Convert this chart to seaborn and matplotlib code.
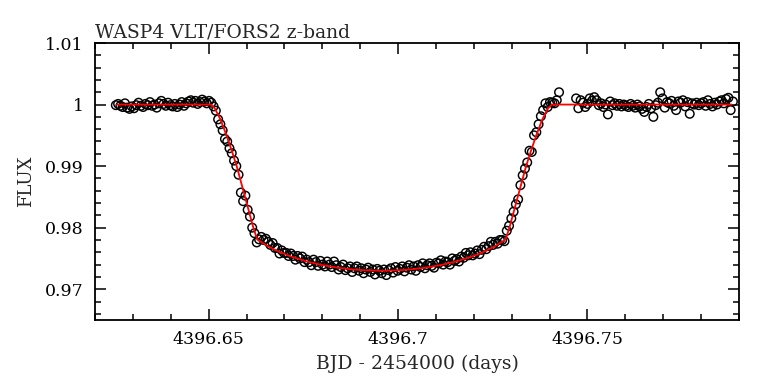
import numpy as np
import pandas as pd
import matplotlib
matplotlib.use("Agg")
import matplotlib.pyplot as plt
import seaborn as sns
from matplotlib.ticker import MultipleLocator

sns.set_style("ticks")
plt.rcParams['font.family'] = ['DejaVu Serif']

# BJD - 2454000, kept as offsets from 4396.6
T0 = 4396.6

# out of transit, before ingress
t_pre = [0.0255, 0.0261, 0.0267, 0.0273, 0.0279, 0.0285, 0.0291, 0.0297, 0.0303, 0.0309,
         0.0315, 0.0321, 0.0327, 0.0333, 0.0339, 0.0345, 0.0351, 0.0357, 0.0363, 0.0369,
         0.0375, 0.0381, 0.0387, 0.0393, 0.0399, 0.0405, 0.0411, 0.0417, 0.0423, 0.0429,
         0.0435, 0.0441, 0.0447, 0.0453, 0.0459, 0.0465, 0.0471, 0.0477, 0.0483, 0.0489,
         0.0495, 0.0501, 0.0507]
f_pre = [0.9999, 1.0001, 0.9998, 0.9996, 1.0002, 0.9995, 0.9993, 0.9997, 0.9994, 0.9999,
         1.0003, 0.9998, 0.9996, 1.0001, 0.9999, 1.0004, 0.9998, 1.0000, 0.9995, 1.0002,
         1.0006, 1.0001, 0.9998, 1.0003, 0.9999, 0.9997, 1.0001, 0.9996, 1.0000, 1.0004,
         0.9998, 1.0002, 1.0005, 1.0007, 1.0003, 1.0006, 1.0001, 1.0004, 1.0008, 1.0005,
         1.0002, 1.0006, 1.0003]

# ingress
t_ing = [0.0513, 0.0519, 0.0525, 0.0531, 0.0537, 0.0543, 0.0549, 0.0555, 0.0561, 0.0567,
         0.0573, 0.0579, 0.0585, 0.0591, 0.0597, 0.0603, 0.0609, 0.0615, 0.0621, 0.0627]
f_ing = [0.9997, 0.9990, 0.9976, 0.9968, 0.9958, 0.9944, 0.9940, 0.9929, 0.9921, 0.9909,
         0.9900, 0.9886, 0.9857, 0.9843, 0.9852, 0.9829, 0.9818, 0.9800, 0.9791, 0.9776]

# full transit
t_bot = [0.0633, 0.0639, 0.0645, 0.0651, 0.0657, 0.0663, 0.0669, 0.0675, 0.0681, 0.0687,
         0.0693, 0.0699, 0.0705, 0.0711, 0.0717, 0.0723, 0.0729, 0.0735, 0.0741, 0.0747,
         0.0753, 0.0759, 0.0765, 0.0771, 0.0777, 0.0783, 0.0789, 0.0795, 0.0801, 0.0807,
         0.0813, 0.0819, 0.0825, 0.0831, 0.0837, 0.0843, 0.0849, 0.0855, 0.0861, 0.0867,
         0.0873, 0.0879, 0.0885, 0.0891, 0.0897, 0.0903, 0.0909, 0.0915, 0.0921, 0.0927,
         0.0933, 0.0939, 0.0945, 0.0951, 0.0957, 0.0963, 0.0969, 0.0975, 0.0981, 0.0987,
         0.0993, 0.0999, 0.1005, 0.1011, 0.1017, 0.1023, 0.1029, 0.1035, 0.1041, 0.1047,
         0.1053, 0.1059, 0.1065, 0.1071, 0.1077, 0.1083, 0.1089, 0.1095, 0.1101, 0.1107,
         0.1113, 0.1119, 0.1125, 0.1131, 0.1137, 0.1143, 0.1149, 0.1155, 0.1161, 0.1167,
         0.1173, 0.1179, 0.1185, 0.1191, 0.1197, 0.1203, 0.1209, 0.1215, 0.1221, 0.1227,
         0.1233, 0.1239, 0.1245, 0.1251, 0.1257, 0.1263, 0.1269, 0.1275, 0.1281]
f_bot = [0.9781, 0.9785, 0.9780, 0.9782, 0.9777, 0.9772, 0.9775, 0.9767, 0.9767, 0.9758,
         0.9763, 0.9759, 0.9759, 0.9754, 0.9758, 0.9754, 0.9748, 0.9754, 0.9750, 0.9753,
         0.9744, 0.9748, 0.9744, 0.9739, 0.9748, 0.9744, 0.9738, 0.9746, 0.9740, 0.9737,
         0.9745, 0.9740, 0.9736, 0.9745, 0.9739, 0.9732, 0.9736, 0.9740, 0.9731, 0.9734,
         0.9737, 0.9728, 0.9734, 0.9737, 0.9730, 0.9734, 0.9726, 0.9732, 0.9735, 0.9728,
         0.9732, 0.9724, 0.9733, 0.9730, 0.9726, 0.9732, 0.9723, 0.9731, 0.9734, 0.9727,
         0.9736, 0.9730, 0.9733, 0.9737, 0.9729, 0.9735, 0.9739, 0.9732, 0.9737, 0.9730,
         0.9739, 0.9736, 0.9742, 0.9734, 0.9739, 0.9742, 0.9738, 0.9735, 0.9743, 0.9742,
         0.9747, 0.9740, 0.9745, 0.9744, 0.9740, 0.9750, 0.9746, 0.9749, 0.9745, 0.9753,
         0.9751, 0.9759, 0.9755, 0.9760, 0.9755, 0.9758, 0.9763, 0.9757, 0.9764, 0.9769,
         0.9765, 0.9770, 0.9777, 0.9772, 0.9777, 0.9774, 0.9780, 0.9780, 0.9778]

# egress
t_egr = [0.1287, 0.1293, 0.1299, 0.1305, 0.1311, 0.1317, 0.1323, 0.1329, 0.1335, 0.1341,
         0.1347, 0.1353, 0.1359, 0.1365, 0.1371, 0.1377, 0.1383, 0.1389, 0.1395, 0.1401]
f_egr = [0.9795, 0.9803, 0.9815, 0.9826, 0.9838, 0.9846, 0.9869, 0.9885, 0.9896, 0.9906,
         0.9925, 0.9923, 0.9950, 0.9955, 0.9968, 0.9981, 0.9991, 1.0002, 0.9996, 1.0004]

# out of transit, after egress (small gap near 4396.745)
t_post = [0.1407, 0.1413, 0.1419, 0.1425,
          0.1470, 0.1476, 0.1482, 0.1488, 0.1494, 0.1500, 0.1506, 0.1512, 0.1518, 0.1524,
          0.1530, 0.1536, 0.1542, 0.1548, 0.1554, 0.1560, 0.1566, 0.1572, 0.1578, 0.1584,
          0.1590, 0.1596, 0.1602, 0.1608, 0.1614, 0.1620, 0.1626, 0.1632, 0.1638, 0.1644,
          0.1650, 0.1656, 0.1662, 0.1668, 0.1674, 0.1680, 0.1686, 0.1692, 0.1698, 0.1704,
          0.1710, 0.1716, 0.1722, 0.1728, 0.1734, 0.1740, 0.1746, 0.1752, 0.1758, 0.1764,
          0.1770, 0.1776, 0.1782, 0.1788, 0.1794, 0.1800, 0.1806, 0.1812, 0.1818, 0.1824,
          0.1830, 0.1836, 0.1842, 0.1848, 0.1854, 0.1860, 0.1866, 0.1872, 0.1878, 0.1884]
f_post = [1.0003, 1.0002, 1.0007, 1.0020,
          1.0010, 0.9994, 1.0007, 1.0003, 0.9996, 1.0001, 1.0010, 1.0006, 1.0012, 1.0007,
          0.9999, 1.0002, 0.9996, 1.0000, 0.9984, 1.0005, 0.9999, 1.0002, 0.9998, 1.0001,
          0.9997, 1.0000, 0.9998, 0.9996, 1.0001, 0.9998, 0.9995, 1.0000, 0.9997, 0.9993,
          0.9988, 0.9996, 1.0001, 0.9994, 0.9980, 0.9999, 1.0003, 1.0020, 1.0010, 0.9995,
          1.0004, 1.0002, 1.0006, 0.9998, 0.9991, 1.0005, 1.0003, 1.0007, 0.9997, 1.0004,
          0.9985, 1.0002, 1.0000, 1.0003, 0.9999, 1.0002, 1.0004, 0.9998, 1.0007, 1.0001,
          0.9997, 1.0003, 1.0000, 1.0005, 1.0007, 1.0002, 1.0009, 1.0011, 0.9991, 1.0005]

# fitted transit model (red curve)
t_model = [0.0258, 0.0506, 0.0516, 0.0531, 0.0546, 0.0561, 0.0574, 0.0596, 0.0618, 0.0628,
           0.0656, 0.0686, 0.0716, 0.0756, 0.0796, 0.0836, 0.0876, 0.0916, 0.0956,
           0.0996, 0.1036, 0.1076, 0.1116, 0.1156, 0.1196, 0.1226, 0.1256, 0.1284,
           0.1294, 0.1316, 0.1338, 0.1351, 0.1366, 0.1381, 0.1396, 0.1406, 0.1880]
f_model = [1.0000, 1.0000, 0.9994, 0.9976, 0.9952, 0.9925, 0.9900, 0.9850, 0.9800, 0.97810,
           0.97699, 0.97607, 0.97534, 0.97456, 0.97397, 0.97354, 0.97323, 0.97306, 0.97300,
           0.97306, 0.97323, 0.97354, 0.97397, 0.97456, 0.97534, 0.97607, 0.97699, 0.97810,
           0.9800, 0.9850, 0.9900, 0.9925, 0.9952, 0.9976, 0.9994, 1.0000, 1.0000]

xticks = [4396.65, 4396.7, 4396.75]
xtick_labels = ['4396.65', '4396.7', '4396.75']
yticks = [0.97, 0.98, 0.99, 1.0, 1.01]
ytick_labels = ['0.97', '0.98', '0.99', '1', '1.01']

obs = pd.DataFrame({
    'bjd': T0 + np.array(t_pre + t_ing + t_bot + t_egr + t_post),
    'flux': f_pre + f_ing + f_bot + f_egr + f_post,
})
model = pd.DataFrame({'bjd': T0 + np.array(t_model), 'flux': f_model})

fig = plt.figure(figsize=(7.57, 3.86), dpi=100)
ax = fig.add_axes([0.1255, 0.171, 0.8507, 0.7176])

sns.scatterplot(data=obs, x='bjd', y='flux', ax=ax, marker='o', s=38,
                facecolor='none', edgecolor='black', linewidth=1.05, zorder=2)
sns.lineplot(data=model, x='bjd', y='flux', ax=ax, color='red', linewidth=1.3,
             sort=False, estimator=None, zorder=3)

ax.set_xlim(4396.62, 4396.79)
ax.set_ylim(0.965, 1.01)
ax.set_xticks(xticks)
ax.set_xticklabels(xtick_labels)
ax.set_yticks(yticks)
ax.set_yticklabels(ytick_labels)
ax.xaxis.set_minor_locator(MultipleLocator(0.01))
ax.yaxis.set_minor_locator(MultipleLocator(0.002))

for sp in ax.spines.values():
    sp.set_linewidth(1.3)
    sp.set_color('black')
ax.tick_params(which='both', direction='in', top=True, right=True,
               width=1.1, colors='black', labelsize=12.5)
ax.tick_params(which='major', length=8, pad=8)
ax.tick_params(which='minor', length=4)

ax.set_xlabel('BJD - 2454000 (days)', fontsize=13.5, labelpad=5)
ax.set_ylabel('FLUX', fontsize=13, labelpad=7)
ax.set_title('WASP4 VLT/FORS2 z-band', loc='left', fontsize=13.5, pad=4)

fig.savefig('out.png', dpi=100, facecolor='white')
